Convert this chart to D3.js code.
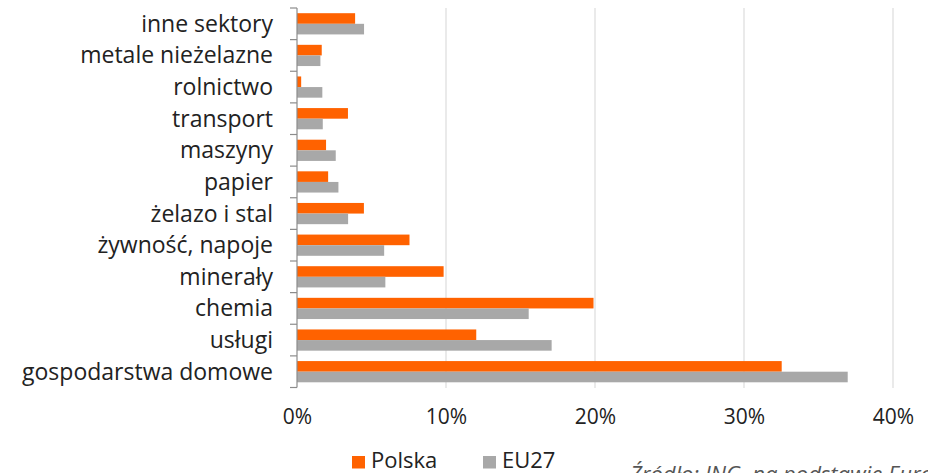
<!DOCTYPE html>
<html><head><meta charset="utf-8">
<script src="https://cdn.jsdelivr.net/npm/d3@7"></script>
<style>
html,body{margin:0;padding:0;background:#fff;}
text{font-family:"Open Sans",sans-serif;}
</style></head>
<body><svg id="c" width="928" height="473"></svg>
<script>
const categories = ["inne sektory","metale nieżelazne","rolnictwo","transport","maszyny","papier","żelazo i stal","żywność, napoje","minerały","chemia","usługi","gospodarstwa domowe"];
const polska = [3.9,1.66,0.28,3.42,1.95,2.09,4.49,7.55,9.84,19.9,12.03,32.53];
const eu27   = [4.5,1.57,1.7,1.73,2.6,2.78,3.43,5.85,5.93,15.55,17.09,36.96];
const seriesNames = ["Polska","EU27"];
const seriesColors = ["#FF6200","#A8A8A8"];
const xTicks = [0,10,20,30,40];
const sourceText = "Źródło: ING, na podstawie Eurostatu";

const svg = d3.select("#c");
const x = d3.scaleLinear().domain([0,40]).range([297,893]);
const y = d3.scaleBand().domain(categories).range([8,387.5]).paddingInner(0).paddingOuter(0);
const ySub = d3.scaleBand().domain(seriesNames).range([5.2, y.bandwidth()-5.2]);

// gridlines
svg.append("g").selectAll("line").data(xTicks.filter(d=>d>0)).join("line")
  .attr("x1",d=>x(d)).attr("x2",d=>x(d)).attr("y1",8).attr("y2",388)
  .attr("stroke","#dcdcdc").attr("stroke-width",1.2);

// bars
const rows = categories.map((c,i)=>({c, vals:[polska[i],eu27[i]]}));
const g = svg.append("g");
rows.forEach(r=>{
  r.vals.forEach((v,j)=>{
    g.append("rect")
      .attr("x",x(0)).attr("y",y(r.c)+ySub(seriesNames[j]))
      .attr("width",x(v)-x(0)).attr("height",ySub.bandwidth())
      .attr("fill",seriesColors[j]);
  });
});

// y axis line + ticks at band boundaries
const yAxis = svg.append("g");
yAxis.append("line").attr("x1",x(0)).attr("x2",x(0)).attr("y1",y.range()[0]).attr("y2",y.range()[1])
  .attr("stroke","#8c8c8c").attr("stroke-width",1.2);
const bounds = categories.map(c=>y(c)).concat([y.range()[1]]);
yAxis.selectAll("line.t").data(bounds).join("line").attr("class","t")
  .attr("x1",x(0)-7).attr("x2",x(0)).attr("y1",d=>d).attr("y2",d=>d)
  .attr("stroke","#8c8c8c").attr("stroke-width",1.2);
yAxis.selectAll("text").data(categories).join("text")
  .attr("x",273).attr("y",d=>y(d)+y.bandwidth()/2+8)
  .attr("text-anchor","end").attr("font-size",23).attr("fill","#222").text(d=>d);

// x axis labels
const xAxis = d3.axisBottom(x).tickValues(xTicks).tickFormat(d=>d+"%").tickSize(0).tickPadding(0);
const xg = svg.append("g").attr("transform","translate(0,409)").call(xAxis);
xg.select(".domain").remove();
xg.selectAll("text").attr("font-size",21).attr("fill","#222").attr("font-family","'Open Sans',sans-serif").attr("dy","0.71em");

// legend
const legX = [352,483];
const lg = svg.append("g");
seriesNames.forEach((s,i)=>{
  lg.append("rect").attr("x",legX[i]).attr("y",456).attr("width",13).attr("height",12.5).attr("fill",seriesColors[i]);
  lg.append("text").attr("x",legX[i]+19).attr("y",467.5).attr("font-size",22).attr("fill","#222").text(s);
});

svg.append("text").attr("x",630).attr("y",482).attr("font-size",22).attr("font-style","italic").attr("fill","#555").text(sourceText);
</script></body></html>
